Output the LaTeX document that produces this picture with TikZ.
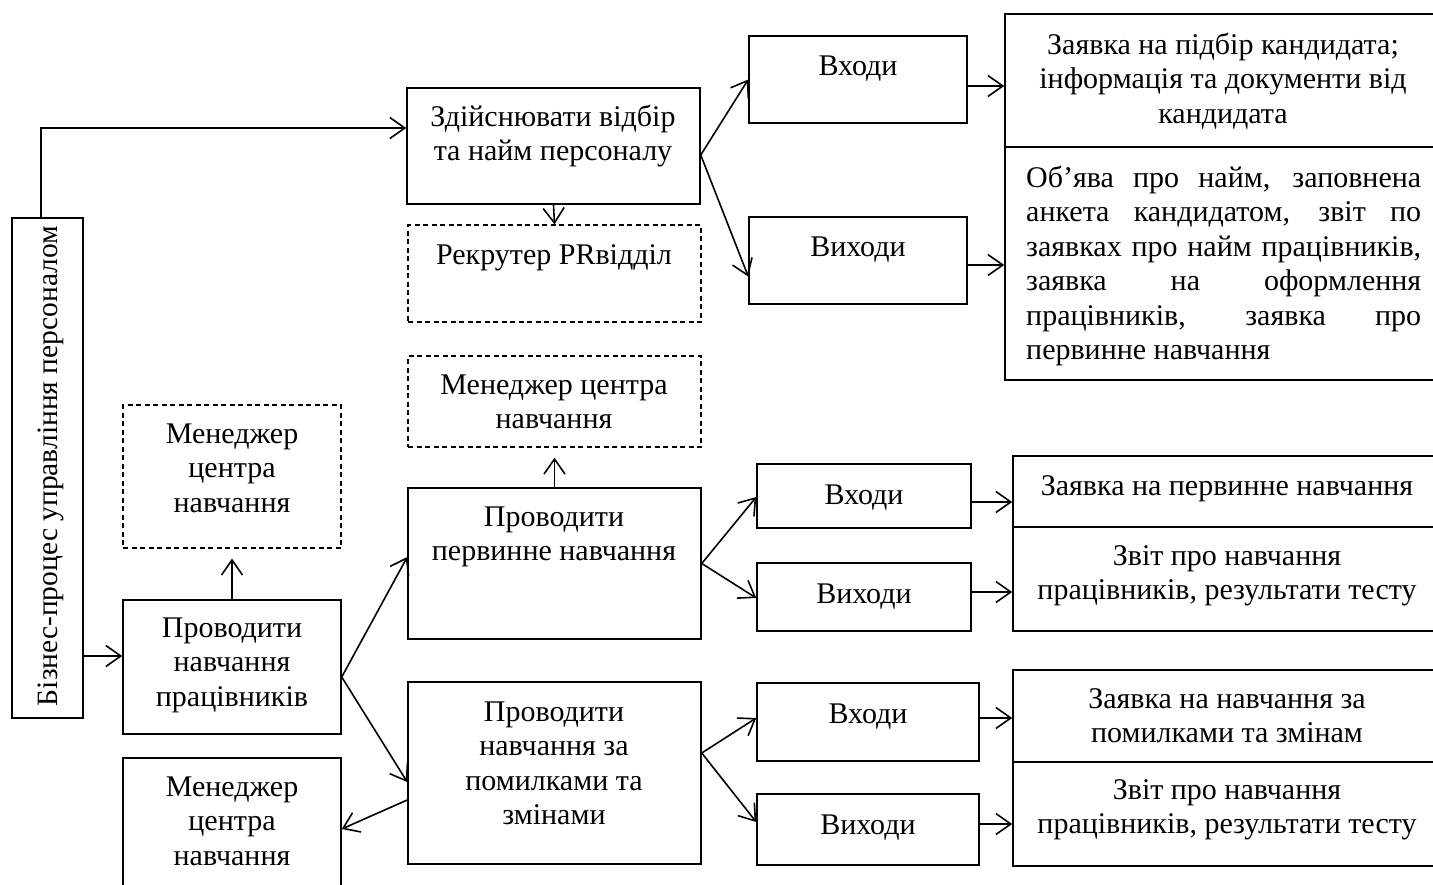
\documentclass[tikz,border=0pt]{standalone}
\usepackage{fontspec}
\setmainfont{Liberation Serif}
\usetikzlibrary{arrows.meta}
\begin{document}
\begin{tikzpicture}[x=1pt,y=-1pt,
  box/.style={draw, line width=1.5pt, inner sep=0pt},
  dbox/.style={box, line width=1.3pt, dash pattern=on 5pt off 3.5pt},
  txt/.style={anchor=north, inner sep=0pt, align=center, yshift=24.15pt, font=\fontsize{30}{34.5}\selectfont},
  arr/.style={line width=1.6pt, -{Straight Barb[length=15pt,width=21pt,line width=1.6pt]}}]
\useasboundingbox (0,0) rectangle (1433,884);
\clip (0,0) rectangle (1433,884);
% boxes
\node[box, minimum width=71pt, minimum height=500pt] (vbox) at (47.5,468) {};
\node[box, minimum width=293pt, minimum height=116pt] (b1) at (553.5,146) {};
\node[dbox, minimum width=293pt, minimum height=97pt] (rec) at (554.5,273.5) {};
\node[box, minimum width=218pt, minimum height=87pt] (in1) at (858,79.5) {};
\node[box, minimum width=218pt, minimum height=87pt] (out1) at (858,260.5) {};
\node[box, minimum width=440pt, minimum height=133pt] (r1) at (1225,80.5) {};
\node[box, minimum width=440pt, minimum height=233pt] (r2) at (1225,263.5) {};
\node[dbox, minimum width=293pt, minimum height=91pt] (mgr1) at (554.5,401.5) {};
\node[box, minimum width=293pt, minimum height=151pt] (b2) at (554.5,563.5) {};
\node[box, minimum width=214pt, minimum height=64pt] (in2) at (864,496) {};
\node[box, minimum width=214pt, minimum height=68pt] (out2) at (864,597) {};
\node[box, minimum width=432pt, minimum height=71pt] (r3) at (1229,491.5) {};
\node[box, minimum width=432pt, minimum height=104pt] (r4) at (1229,579) {};
\node[box, minimum width=293pt, minimum height=182pt] (b3) at (554.5,773) {};
\node[box, minimum width=222pt, minimum height=78pt] (in3) at (868,722) {};
\node[box, minimum width=222pt, minimum height=71pt] (out3) at (868,829.5) {};
\node[box, minimum width=432pt, minimum height=92pt] (r5) at (1229,716) {};
\node[box, minimum width=432pt, minimum height=104pt] (r6) at (1229,814) {};
\node[dbox, minimum width=218pt, minimum height=143pt] (mgr0) at (232,476.5) {};
\node[box, minimum width=218pt, minimum height=134pt] (b0) at (232,667) {};
\node[box, minimum width=218pt, minimum height=142pt] (mgr2) at (232,829) {};
% texts
\node[font=\fontsize{29.5}{34.5}\selectfont, rotate=90, anchor=base, inner sep=0pt] (tv) at (57,466) {Бізнес-процес управління персоналом};
\node[txt] (t1) at (553,126) {\strut Здійснювати відбір\\та найм персоналу};
\node[txt] (trec) at (554,264) {\strut Рекрутер PRвідділ};
\node[txt] (tin1) at (858,75) {\strut Входи};
\node[txt] (tout1) at (858,256) {\strut Виходи};
\node[txt] (tr1) at (1223,54) {\strut Заявка на підбір кандидата;\\інформація та документи від\\кандидата};
\node[txt, anchor=north west, align=left] (tr2) at (1026,187) {\strut\makebox[395pt][s]{Об’ява про найм, заповнена}\\
\makebox[395pt][s]{анкета кандидатом, звіт по}\\
\makebox[395pt][s]{заявках про найм працівників,}\\
\makebox[395pt][s]{заявка на оформлення}\\
\makebox[395pt][s]{працівників, заявка про}\\
первинне навчання};
\node[txt] (tm1) at (554,394) {\strut Менеджер центра\\навчання};
\node[txt] (t2) at (554,526) {\strut Проводити\\первинне навчання};
\node[txt] (tin2) at (864,504) {\strut Входи};
\node[txt] (tout2) at (864,603) {\strut Виходи};
\node[txt] (tr3) at (1227,495) {\strut Заявка на первинне навчання};
\node[txt] (tr4) at (1227,565) {\strut Звіт про навчання\\працівників, результати тесту};
\node[txt] (t3) at (554,721) {\strut Проводити\\навчання за\\помилками та\\змінами};
\node[txt] (tin3) at (868,723) {\strut Входи};
\node[txt] (tout3) at (868,834) {\strut Виходи};
\node[txt] (tr5) at (1227,708) {\strut Заявка на навчання за\\помилками та змінам};
\node[txt] (tr6) at (1227,799) {\strut Звіт про навчання\\працівників, результати тесту};
\node[txt] (tm0) at (232,443) {\strut Менеджер\\центра\\навчання};
\node[txt] (t0) at (232,637) {\strut Проводити\\навчання\\працівників};
\node[txt] (tm2) at (232,796) {\strut Менеджер\\центра\\навчання};
% connectors
\draw[arr] ([xshift=-6.5pt]vbox.north) |- ([yshift=18pt]b1.west);
\draw[arr] (b1.south) -- (rec.north);
\coordinate (f1) at ([yshift=-9pt]b1.east);
\draw[arr] (f1) -- (in1.west);
\draw[arr] (f1) -- ([yshift=-16pt]out1.west);
\coordinate (a1) at ([yshift=-6.5pt]in1.east);
\draw[arr] (a1) -- (a1 -| r1.west);
\coordinate (a2) at ([yshift=-4.5pt]out1.east);
\draw[arr] (a2) -- (a2 -| r2.west);
\draw[arr, shorten >=10pt] (b2.north) -- (mgr1.south);
\draw[arr] (b2.east) -- ([yshift=-1pt]in2.west);
\draw[arr] (b2.east) -- ([yshift=-1pt]out2.west);
\coordinate (a3) at ([yshift=-6pt]in2.east);
\draw[arr] (a3) -- (a3 -| r3.west);
\coordinate (a4) at ([yshift=5pt]out2.east);
\draw[arr] (a4) -- (a4 -| r4.west);
\coordinate (f3) at ([yshift=20pt]b3.east);
\draw[arr] (f3) -- ([yshift=4pt]in3.west);
\draw[arr] (f3) -- ([yshift=7.5pt]out3.west);
\coordinate (a5) at ([yshift=4pt]in3.east);
\draw[arr] (a5) -- (a5 -| r5.west);
\coordinate (a6) at ([yshift=5.5pt]out3.east);
\draw[arr] (a6) -- (a6 -| r6.west);
\coordinate (v0) at ([yshift=11pt]b0.west);
\draw[arr] (v0 -| vbox.east) -- (v0);
\draw[arr, shorten >=10pt] (b0.north) -- (mgr0.south);
\coordinate (f0) at ([yshift=-10pt]b0.east);
\draw[arr] (f0) -- ([yshift=6.5pt]b2.west);
\draw[arr] (f0) -- ([yshift=-9pt]b3.west);
\draw[arr] ([yshift=-27pt]b3.west) -- (mgr2.east);
\end{tikzpicture}
\end{document}
